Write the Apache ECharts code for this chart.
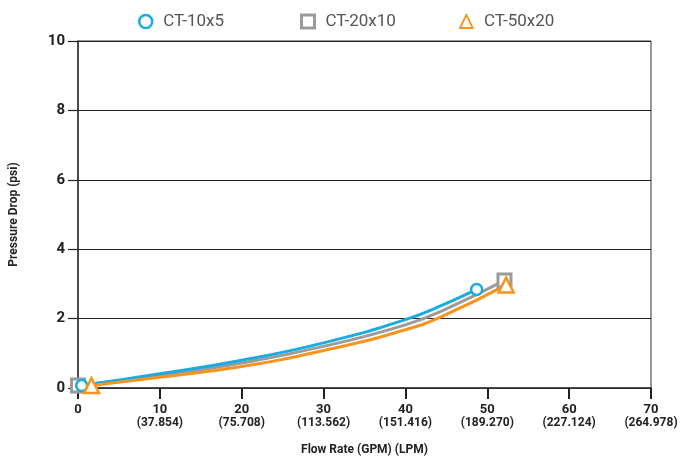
<!DOCTYPE html>
<html>
<head>
<meta charset="utf-8">
<script src="https://cdn.jsdelivr.net/npm/echarts@6/dist/echarts.min.js"></script>
<style>html,body{margin:0;padding:0;background:#fff}#c{width:682px;height:461px}</style>
</head>
<body>
<div id="c"></div>
<script>
// Data
var seriesNames = ['CT-10x5', 'CT-20x10', 'CT-50x20'];
var flowBlue = [0.45, 10, 20, 30, 40, 45, 48.7];
var dpBlue   = [0.07, 0.41, 0.80, 1.30, 1.97, 2.44, 2.84];
var flowGray = [0, 10, 20, 30, 40, 45, 52.1];
var dpGray   = [0.07, 0.36, 0.72, 1.20, 1.82, 2.28, 3.10];
var flowOrange = [1.65, 10, 20, 30, 40, 45, 52.3];
var dpOrange   = [0.07, 0.31, 0.62, 1.08, 1.68, 2.12, 2.97];
var gpmTicks = [0, 10, 20, 30, 40, 50, 60, 70];
var lpmLabels = ['', '(37.854)', '(75.708)', '(113.562)', '(151.416)', '(189.270)', '(227.124)', '(264.978)'];
var yTicks = [0, 2, 4, 6, 8, 10];

var BLUE = '#1aabe3', GRAY = '#9b9b9b', ORANGE = '#f7941d';

function buildData(xs, ys) {
  return xs.map(function (x, i) {
    var item = { value: [x, ys[i]] };
    if (i !== 0 && i !== xs.length - 1) item.symbol = 'none';
    return item;
  });
}

function lineSeries(name, xs, ys, color, symbol, size, bw) {
  return {
    name: name, type: 'line', smooth: 0.5,
    data: buildData(xs, ys),
    symbol: symbol, symbolSize: size, showSymbol: true,
    lineStyle: { color: color, width: 3 },
    itemStyle: { color: '#fff', borderColor: color, borderWidth: bw },
    emphasis: { disabled: true },
    animation: false
  };
}

function legendFor(name, icon, color, left, bw) {
  return {
    left: left, top: 8, itemWidth: 13, itemHeight: 13,
    data: [{ name: name, icon: icon, itemStyle: { color: '#fff', borderColor: color, borderWidth: bw } }],
    textStyle: { fontFamily: 'Roboto', fontSize: 17, color: '#555', padding: [0, 0, 0, 6] },
    selectedMode: false
  };
}

var chart = echarts.init(document.getElementById('c'), null, { renderer: 'canvas' });
chart.setOption({
  backgroundColor: '#fff',
  animation: false,
  legend: [
    legendFor(seriesNames[0], 'circle', BLUE, 133, 2.5),
    legendFor(seriesNames[1], 'rect', GRAY, 295, 3),
    legendFor(seriesNames[2], 'triangle', ORANGE, 454, 1.8)
  ],
  grid: { left: 78, right: 31, top: 41, bottom: 73, show: true, borderColor: '#333', borderWidth: 1, backgroundColor: 'transparent' },
  xAxis: {
    type: 'value', min: gpmTicks[0], max: gpmTicks[gpmTicks.length - 1], interval: 10,
    name: 'Flow Rate (GPM) (LPM)', nameLocation: 'middle', nameGap: 56,
    nameTextStyle: { fontFamily: 'Roboto', fontWeight: 'bold', fontSize: 12, color: '#222' },
    axisLine: { show: true, lineStyle: { color: '#333', width: 1.5 } },
    axisTick: { show: true, length: 11, lineStyle: { color: '#222', width: 2 } },
    splitLine: { show: false },
    axisLabel: {
      margin: 15,
      formatter: function (v) {
        var i = gpmTicks.indexOf(v);
        var l = i >= 0 ? lpmLabels[i] : '';
        return l ? '{a|' + v + '}\n{b|' + l + '}' : '{a|' + v + '}';
      },
      rich: {
        a: { fontFamily: 'Roboto', fontWeight: 'bold', fontSize: 13, color: '#222', lineHeight: 13 },
        b: { fontFamily: 'Roboto', fontWeight: 'bold', fontSize: 12, color: '#222', lineHeight: 13 }
      }
    }
  },
  yAxis: {
    type: 'value', min: yTicks[0], max: yTicks[yTicks.length - 1], interval: 2,
    name: 'Pressure Drop (psi)', nameLocation: 'middle', nameGap: 58,
    nameTextStyle: { fontFamily: 'Roboto', fontWeight: 'bold', fontSize: 12, color: '#222' },
    axisLine: { show: true, lineStyle: { color: '#333', width: 1.5 } },
    axisTick: { show: true, length: 10, lineStyle: { color: '#222', width: 1.2 } },
    splitLine: { show: true, lineStyle: { color: '#222', width: 1.2 } },
    axisLabel: { margin: 13, fontFamily: 'Roboto', fontWeight: 'bold', fontSize: 15, color: '#222' }
  },
  series: [
    lineSeries(seriesNames[1], flowGray, dpGray, GRAY, 'rect', 13, 3),
    lineSeries(seriesNames[0], flowBlue, dpBlue, BLUE, 'circle', 11, 2.5),
    lineSeries(seriesNames[2], flowOrange, dpOrange, ORANGE, 'triangle', 15, 2.5)
  ]
});
</script>
</body>
</html>
